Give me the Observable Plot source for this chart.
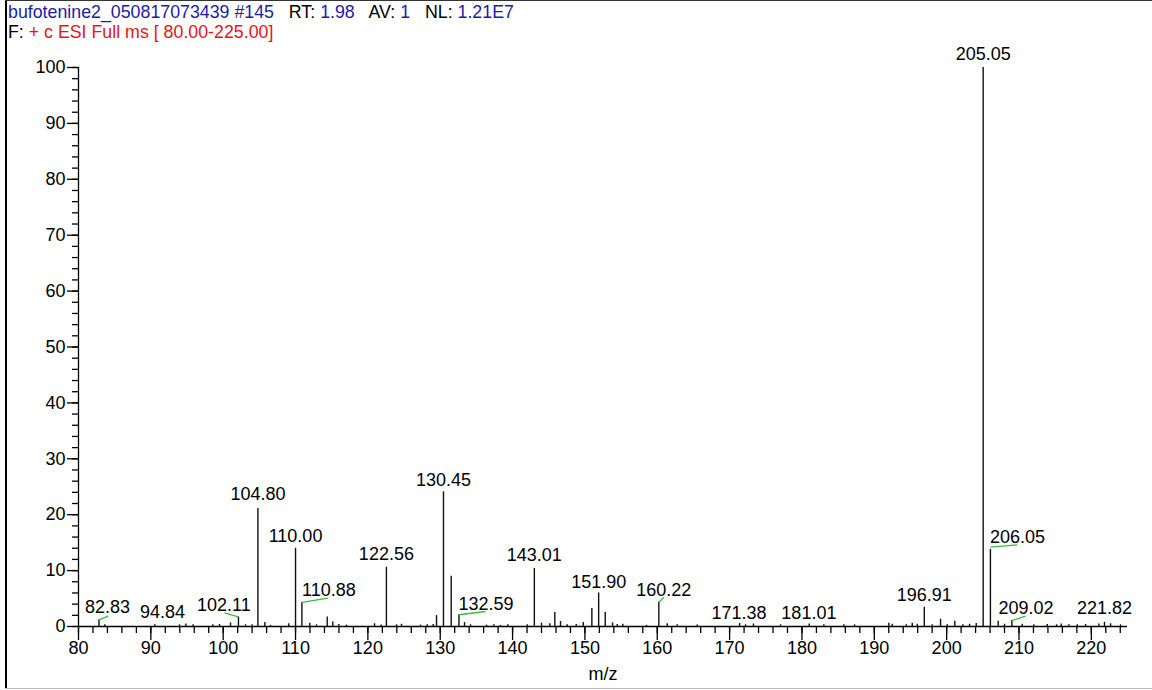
<!DOCTYPE html>
<html>
<head>
<meta charset="utf-8">
<script src="https://cdn.jsdelivr.net/npm/d3@7"></script>
<script src="https://cdn.jsdelivr.net/npm/@observablehq/plot@0.6"></script>
<style>
  html, body { margin: 0; padding: 0; background: #fff; }
  #wrap { position: relative; width: 1152px; height: 690px; overflow: hidden; font-family: "Liberation Sans", Arial, sans-serif; }
  #bl { position: absolute; left: 5px; top: 0; width: 2px; height: 689px; background: #000; }
  #bt { position: absolute; left: 5px; top: 0; width: 1147px; height: 1px; background: #333; }
  #bb { position: absolute; left: 5px; top: 688px; width: 1147px; height: 1px; background: #bbb; }
  #title { position: absolute; left: 8px; top: 2px; font-size: 17.8px; line-height: 20px; white-space: pre; color: #000; }
  .b { color: #1c1ca8; }
  .r { color: #e8141c; }
  #chart { position: absolute; left: 0; top: 45px; }
</style>
</head>
<body>
<div id="wrap">
  <div id="bl"></div><div id="bt"></div><div id="bb"></div>
  <div id="title"></div>
  <div id="chart"></div>
</div>
<script>
// ---- header text ----
const fileName = "bufotenine2_050817073439 #145";
const rt = "1.98", av = "1", nl = "1.21E7";
const scanFilter = "+ c ESI Full ms [ 80.00-225.00]";
const xLabel = "m/z";

// ---- spectrum peaks (m/z, relative abundance %) ----
const peakMz = [
  82.83, 83.64, 90.55, 93.96, 94.84, 95.85, 98.57, 99.49, 101.01, 102.11, 103.09, 104.0,
  104.80, 105.76, 106.54, 109.07, 110.00, 110.88, 111.97, 112.9, 114.38, 115.15, 115.99, 117.05,
  120.92, 121.84, 122.56, 123.96, 124.65, 127.28, 128.2, 129.03, 129.49, 130.45, 131.52, 132.59,
  133.36, 134.19, 136.4, 137.41, 138.33, 139.35, 142.02, 143.01, 144.0, 145.15, 145.84, 146.63,
  147.55, 148.8, 149.77, 150.96, 151.90, 152.81, 153.82, 154.47, 155.24, 158.52, 160.22, 161.38,
  162.76, 165.53, 171.38, 172.2, 173.3, 177.04, 181.01, 183.03, 185.8, 187.27, 192.01, 192.48,
  194.42, 195.25, 195.94, 196.91, 198.0, 199.16, 200.08, 201.13, 202.24, 203.17, 204.09, 205.05,
  206.05, 207.13, 208.0, 209.02, 210.45, 212.06, 213.91, 215.2, 215.84, 216.9, 218.06, 219.2,
  221.05, 221.82, 222.66, 224.04
];
const peakInt = [
  1.2, 0.3, 0.3, 0.3, 0.45, 0.3, 0.3, 0.35, 0.65, 1.7, 0.3, 0.3,
  21.1, 0.7, 0.2, 0.5, 14.0, 4.3, 0.6, 0.3, 1.7, 0.8, 0.35, 0.25,
  0.5, 0.25, 10.6, 0.3, 0.4, 0.25, 0.3, 0.35, 1.95, 24.1, 9.0, 2.1,
  0.7, 0.3, 0.25, 0.3, 0.2, 0.3, 0.3, 10.4, 0.6, 0.5, 2.5, 0.9,
  0.3, 0.35, 0.7, 3.2, 6.0, 2.5, 0.65, 0.35, 0.4, 0.2, 4.35, 0.5,
  0.3, 0.25, 0.55, 0.3, 0.45, 0.3, 0.45, 0.3, 0.3, 0.3, 0.6, 0.4,
  0.3, 0.6, 0.4, 3.45, 0.3, 1.3, 0.3, 0.95, 0.3, 0.4, 0.55, 100,
  13.8, 0.95, 0.4, 1.07, 0.4, 0.3, 0.35, 0.3, 0.45, 0.3, 0.3, 0.35,
  0.45, 0.75, 0.5, 0.3
];

// ---- peak labels: text, anchor (centre) in data units ----
const labelText = ["82.83","94.84","102.11","104.80","110.00","110.88","122.56","130.45","132.59",
  "143.01","151.90","160.22","171.38","181.01","196.91","205.05","206.05","209.02","221.82"];
const labelMz  = [84.02, 91.61, 100.09, 104.80, 110.00, 114.60, 122.56, 130.45, 136.33,
  143.01, 151.90, 160.91, 171.30, 180.96, 196.91, 205.05, 209.80, 210.96, 221.83];
const labelInt = [3.4, 2.5, 3.76, 23.6, 16.1, 6.44, 12.9, 26.1, 3.94,
  12.7, 7.96, 6.44, 2.3, 2.4, 5.67, 102.3, 15.9, 3.22, 3.22];

// ---- green leader lines: from peak top to label ----
const leadFromMz  = [82.83, 102.11, 110.88, 132.59, 160.22, 206.05, 209.02];
const leadFromInt = [1.2, 1.7, 4.3, 2.1, 4.35, 14.2, 1.07];
const leadToMz    = [84.10, 100.18, 114.47, 136.26, 160.91, 209.76, 210.91];
const leadToInt   = [1.84, 2.45, 5.06, 2.68, 5.24, 14.6, 1.84];

// ---- axis ticks ----
const xMajor = d3.range(80, 221, 10);
const xMinor = d3.range(80, 225, 2);
const yMajor = d3.range(0, 101, 10);
const yMinor = d3.range(0, 101, 2);

// header
document.getElementById("title").innerHTML =
  `<span class="b">${fileName}</span>   RT: <span class="b">${rt}</span>   AV: <span class="b">${av}</span>   NL: <span class="b">${nl}</span>\n` +
  `F: <span class="r">${scanFilter}</span>`;

const peaks = peakMz.map((mz, i) => ({mz, i: peakInt[i]}));
const labels = labelText.map((t, k) => ({t, x: labelMz[k], y: labelInt[k]}));
const leaders = leadFromMz.map((m, k) => ({x1: m, y1: leadFromInt[k], x2: leadToMz[k], y2: leadToInt[k]}));

const chart = Plot.plot({
  width: 1152,
  height: 645,
  marginTop: 22,
  marginBottom: 64,
  marginLeft: 78,
  marginRight: 25,
  x: {domain: [80, 225]},
  y: {domain: [0, 100]},
  style: {fontFamily: "'Liberation Sans', Arial, sans-serif", fontSize: "18px", color: "#000", background: "transparent", overflow: "visible"},
  marks: [
    Plot.axisY({ticks: yMajor, tickSize: 11, tickPadding: 2, label: null, fontSize: 18, strokeWidth: 1.3}),
    Plot.axisY({ticks: yMinor, tickSize: 6, text: null, label: null, strokeWidth: 1.3}),
    Plot.axisX({ticks: xMajor, tickSize: 14, tickPadding: 1, label: null, fontSize: 18, strokeWidth: 1.3}),
    Plot.axisX({ticks: xMinor, tickSize: 7, text: null, label: null, strokeWidth: 1.3}),
    Plot.ruleX([80], {y1: 0, y2: 100, stroke: "#000", strokeWidth: 1.3}),
    Plot.ruleY([0], {x1: 80, x2: 225, stroke: "#000", strokeWidth: 1.3}),
    Plot.ruleX(peaks, {x: "mz", y1: 0, y2: "i", stroke: "#111", strokeWidth: 1.4}),
    Plot.link(leaders, {x1: "x1", y1: "y1", x2: "x2", y2: "y2", stroke: "#3dbb3d", strokeWidth: 1.3}),
    Plot.text(labels, {x: "x", y: "y", text: "t", lineAnchor: "middle", textAnchor: "middle", fontSize: 18, fill: "#000"}),
    Plot.text([xLabel], {frameAnchor: "bottom", dy: 48, lineAnchor: "middle", fontSize: 18, fill: "#000"})
  ]
});
document.getElementById("chart").appendChild(chart);
</script>
</body>
</html>
